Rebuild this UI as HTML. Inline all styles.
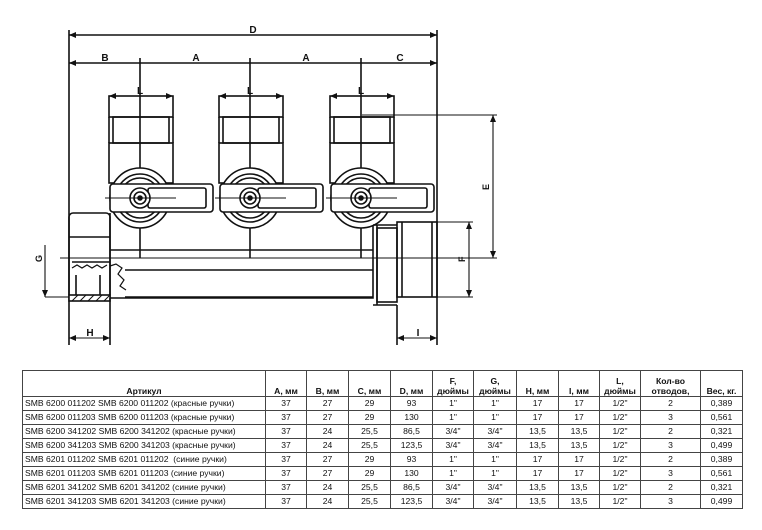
<!DOCTYPE html>
<html><head><meta charset="utf-8"><style>
body{margin:0;background:#fff;width:762px;height:530px;overflow:hidden;position:relative;font-family:"Liberation Sans","Noto Sans CJK SC",sans-serif}
svg{position:absolute;left:0;top:0}
table{position:absolute;left:22px;top:370px;border-collapse:collapse;font-size:8.6px;color:#111}
td{border:1px solid #444;padding:0 2px;height:13px;line-height:13px;text-align:center;white-space:nowrap}
td:first-child{text-align:left}
tr.h td{height:25px;line-height:10px;vertical-align:bottom;font-weight:bold}
tr.h td:first-child{text-align:center}
</style></head><body>
<svg width="762" height="360" viewBox="0 0 762 360" fill="none" stroke="#111" stroke-width="1.6" font-family="Liberation Sans" font-size="10" font-weight="bold">
<defs><marker id="a" markerWidth="8" markerHeight="6" refX="7" refY="3" orient="auto-start-reverse" markerUnits="userSpaceOnUse"><path d="M0,0L7,3L0,6" fill="#111" stroke="none"/></marker></defs>
<line x1="69" y1="30" x2="69" y2="345"/><line x1="437" y1="30" x2="437" y2="345"/>
<line x1="69" y1="35" x2="437" y2="35" marker-start="url(#a)" marker-end="url(#a)"/>
<line x1="69" y1="63" x2="437" y2="63" marker-start="url(#a)" marker-end="url(#a)"/>
<g fill="#111" stroke="none" text-anchor="middle"><text x="253" y="33">D</text><text x="105" y="61">B</text><text x="196" y="61">A</text><text x="306" y="61">A</text><text x="400" y="61">C</text>
<text x="140" y="94">L</text><text x="250" y="94">L</text><text x="361" y="94">L</text><text x="90" y="336">H</text><text x="418" y="336">I</text></g>
<g fill="#111" stroke="none" font-size="9"><text transform="translate(489,190) rotate(-90)">E</text><text transform="translate(465,262) rotate(-90)">F</text><text transform="translate(42,262) rotate(-90)">G</text></g>
<g id="v">
<line x1="140" y1="58" x2="140" y2="258"/>
<line x1="109" y1="96" x2="173" y2="96" marker-start="url(#a)" marker-end="url(#a)" stroke-width="1.1"/>
<rect x="109" y="96" width="64" height="21"/>
<rect x="113" y="117" width="56" height="26"/>
<line x1="109" y1="117" x2="109" y2="143"/><line x1="173" y1="117" x2="173" y2="143"/>
<rect x="109" y="143" width="64" height="40"/>
<circle cx="140" cy="198" r="30" fill="#fff"/>
<circle cx="140" cy="198" r="24"/><circle cx="140" cy="198" r="20"/>
<rect x="110" y="184" width="103" height="28" rx="3" fill="#fff"/>
<rect x="148" y="188" width="58" height="20" rx="2"/>
<circle cx="140" cy="198" r="10" fill="#fff"/><circle cx="140" cy="198" r="6"/><circle cx="140" cy="198" r="2" fill="#111"/>
<line x1="105" y1="198" x2="176" y2="198" stroke-width="1.1"/>
</g>
<use href="#v" x="110"/><use href="#v" x="221"/>
<path d="M110 213 V298 H373 V225"/>
<line x1="110" y1="250" x2="373" y2="250"/>
<line x1="125" y1="270" x2="373" y2="270"/>
<line x1="125" y1="297" x2="373" y2="297"/>
<line x1="60" y1="258" x2="460" y2="258" stroke-width="1.1"/>
<rect x="69" y="213" width="41" height="85" rx="4"/>
<line x1="69" y1="237" x2="110" y2="237"/><line x1="72" y1="262" x2="110" y2="262"/>
<path d="M72 268 l5 -3 5 3 5-3 5 3 5-3 5 3 5-3" stroke-width="1.2"/>
<path d="M110 266 l6 -2 6 4 -4 6 6 6 -4 6 6 4" stroke-width="1.2"/>
<rect x="69" y="295" width="41" height="6" fill="#fff"/>
<path d="M72 301l6-6M80 301l6-6M88 301l6-6M96 301l6-6M104 301l6-6" stroke-width="1"/>
<line x1="76" y1="275" x2="76" y2="295"/><line x1="100" y1="275" x2="100" y2="295"/>
<path d="M373 225 H397 M373 305 H397 M377 225 V305"/>
<rect x="377" y="228" width="20" height="74"/>
<rect x="397" y="222" width="40" height="75"/>
<line x1="402" y1="222" x2="402" y2="297"/><line x1="432" y1="222" x2="432" y2="297"/>
<line x1="362" y1="115" x2="497" y2="115" stroke-width="1.1"/>
<line x1="437" y1="258" x2="497" y2="258" stroke-width="1.1"/>
<line x1="493" y1="115" x2="493" y2="258" marker-start="url(#a)" marker-end="url(#a)" stroke-width="1.1"/>
<line x1="437" y1="222" x2="473" y2="222" stroke-width="1.1"/><line x1="437" y1="297" x2="473" y2="297" stroke-width="1.1"/>
<line x1="469" y1="222" x2="469" y2="297" marker-start="url(#a)" marker-end="url(#a)" stroke-width="1.1"/>
<line x1="45" y1="297" x2="69" y2="297" stroke-width="1.1"/>
<line x1="45" y1="245" x2="45" y2="297" marker-end="url(#a)" stroke-width="1.1"/>
<line x1="110" y1="298" x2="110" y2="345"/><line x1="397" y1="305" x2="397" y2="345"/>
<line x1="69" y1="338" x2="110" y2="338" marker-start="url(#a)" marker-end="url(#a)" stroke-width="1.1"/>
<line x1="397" y1="338" x2="437" y2="338" marker-start="url(#a)" marker-end="url(#a)" stroke-width="1.1"/>
</svg>
<table>
<colgroup><col style="width:243px"><col style="width:41px"><col style="width:42px"><col style="width:42px"><col style="width:42px"><col style="width:41px"><col style="width:43px"><col style="width:42px"><col style="width:41px"><col style="width:41px"><col style="width:60px"><col style="width:42px"></colgroup>
<tr class="h"><td>Артикул</td><td>A, мм</td><td>B, мм</td><td>C, мм</td><td>D, мм</td><td>F,<br>дюймы</td><td>G,<br>дюймы</td><td>H, мм</td><td>I, мм</td><td>L,<br>дюймы</td><td>Кол-во<br>отводов,</td><td>Вес, кг.</td></tr>
<tr><td>SMB 6200 011202 SMB 6200 011202 (красные ручки)</td><td>37</td><td>27</td><td>29</td><td>93</td><td>1"</td><td>1"</td><td>17</td><td>17</td><td>1/2"</td><td>2</td><td>0,389</td></tr>
<tr><td>SMB 6200 011203 SMB 6200 011203 (красные ручки)</td><td>37</td><td>27</td><td>29</td><td>130</td><td>1"</td><td>1"</td><td>17</td><td>17</td><td>1/2"</td><td>3</td><td>0,561</td></tr>
<tr><td>SMB 6200 341202 SMB 6200 341202 (красные ручки)</td><td>37</td><td>24</td><td>25,5</td><td>86,5</td><td>3/4"</td><td>3/4"</td><td>13,5</td><td>13,5</td><td>1/2"</td><td>2</td><td>0,321</td></tr>
<tr><td>SMB 6200 341203 SMB 6200 341203 (красные ручки)</td><td>37</td><td>24</td><td>25,5</td><td>123,5</td><td>3/4"</td><td>3/4"</td><td>13,5</td><td>13,5</td><td>1/2"</td><td>3</td><td>0,499</td></tr>
<tr><td>SMB 6201 011202 SMB 6201 011202 &nbsp;(синие ручки)</td><td>37</td><td>27</td><td>29</td><td>93</td><td>1"</td><td>1"</td><td>17</td><td>17</td><td>1/2"</td><td>2</td><td>0,389</td></tr>
<tr><td>SMB 6201 011203 SMB 6201 011203 (синие ручки)</td><td>37</td><td>27</td><td>29</td><td>130</td><td>1"</td><td>1"</td><td>17</td><td>17</td><td>1/2"</td><td>3</td><td>0,561</td></tr>
<tr><td>SMB 6201 341202 SMB 6201 341202 (синие ручки)</td><td>37</td><td>24</td><td>25,5</td><td>86,5</td><td>3/4"</td><td>3/4"</td><td>13,5</td><td>13,5</td><td>1/2"</td><td>2</td><td>0,321</td></tr>
<tr><td>SMB 6201 341203 SMB 6201 341203 (синие ручки)</td><td>37</td><td>24</td><td>25,5</td><td>123,5</td><td>3/4"</td><td>3/4"</td><td>13,5</td><td>13,5</td><td>1/2"</td><td>3</td><td>0,499</td></tr>
</table>
</body></html>
